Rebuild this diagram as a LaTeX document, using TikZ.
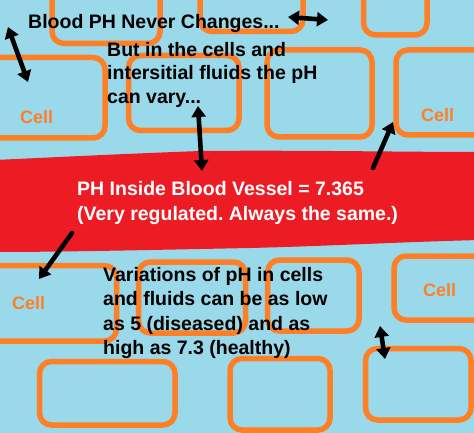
\documentclass[tikz,border=0pt]{standalone}
\usepackage{fontspec}
\setmainfont{Liberation Sans}
\usetikzlibrary{arrows.meta}
\definecolor{skyb}{HTML}{99D9EA}
\definecolor{paintorange}{HTML}{FF7F27}
\definecolor{paintred}{HTML}{ED1C24}
\frenchspacing
\tikzset{
  cellbox/.style={draw=paintorange, line width=5.5pt, rounded corners=12pt},
  txt/.style={anchor=base west, inner sep=0pt, font=\fontsize{19.5}{24}\selectfont\bfseries, text=black},
  wtxt/.style={txt, text=white},
  celltxt/.style={anchor=base west, inner sep=0pt, font=\fontsize{18}{22}\selectfont\bfseries, text=paintorange},
  arr/.style={line width=4.6pt, black, line cap=round},
  tip/.tip={Triangle[length=11pt,width=14pt]}
}
\begin{document}
\begin{tikzpicture}[x=1pt,y=-1pt]
\useasboundingbox (0,0) rectangle (474,433);
\clip (0,0) rectangle (474,433);
\fill[skyb] (0,0) rectangle (474,433);
% cells
\draw[cellbox] (52,-20) rectangle (160,43.5);
\draw[cellbox] (200,-20) rectangle (303,31.5);
\draw[cellbox] (363.5,-20) rectangle (427,35);
\draw[cellbox] (-20,57.5) rectangle (105,138);
\draw[cellbox] (128.5,55.5) rectangle (239,130.5);
\draw[cellbox] (267,50) rectangle (372,137);
\draw[cellbox] (396,50) rectangle (490,135);
\draw[cellbox] (-20,265.5) rectangle (116.5,341);
\draw[cellbox] (138.5,262) rectangle (245.5,333);
\draw[cellbox] (267.5,260) rectangle (359,331);
\draw[cellbox] (394,256) rectangle (490,320);
\draw[cellbox] (39.5,361.5) rectangle (175,425);
\draw[cellbox] (230,358.5) rectangle (330,430);
\draw[cellbox] (365.5,348.5) rectangle (471,420);
% blood vessel
\fill[paintred] (-5,160) .. controls (60,157) and (120,154) .. (200,151)
  .. controls (300,150) and (400,152) .. (480,152)
  -- (480,240) .. controls (400,242) and (330,246) .. (250,248)
  .. controls (150,250) and (60,252) .. (-5,252) -- cycle;
% texts
\node[txt] (t1) at (28,28.3) {Blood PH Never Changes...};
\node[txt] (t2a) at (107,56.5) {But in the cells and};
\node[txt] (t2b) at (107,80) {intersitial fluids the pH};
\node[txt] (t2c) at (107,103.5) {can vary...};
\node[wtxt] (t3a) at (77,195) {PH Inside Blood Vessel = 7.365};
\node[wtxt] (t3b) at (77,220) {(Very regulated. Always the same.)};
\node[txt] (t4a) at (103,281.7) {Variations of pH in cells};
\node[txt] (t4b) at (103,305.7) {and fluids can be as low};
\node[txt] (t4c) at (103,330) {as 5 (diseased) and as};
\node[txt] (t4d) at (103,354) {high as 7.3 (healthy)};
\node[celltxt] (c1) at (20,123.3) {Cell};
\node[celltxt] (c2) at (421,122) {Cell};
\node[celltxt] (c3) at (12,309) {Cell};
\node[celltxt] (c4) at (423,296) {Cell};
% arrow end points
\coordinate (a1s) at (8,27);
\coordinate (a1e) at (28,82);
\coordinate (a2s) at (288,17);
\coordinate (a2e) at (328,20);
\coordinate (a3s) at (198,106);
\coordinate (a3e) at (202,171);
\coordinate (a4s) at (373,168);
\coordinate (a4e) at (393,122);
\coordinate (a5s) at (72,233);
\coordinate (a5e) at (39,279);
\coordinate (a6s) at (380,326);
\coordinate (a6e) at (385,359);
% arrows
\draw[arr, {tip}-{tip}] (a1s) -- (a1e);
\draw[arr, {tip}-{tip}] (a2s) -- (a2e);
\draw[arr, {tip}-{tip}] (a3s) -- (a3e);
\draw[arr, -{tip}] (a4s) -- (a4e);
\draw[arr, -{tip}] (a5s) -- (a5e);
\draw[arr, {tip}-{tip}] (a6s) -- (a6e);
\end{tikzpicture}
\end{document}
